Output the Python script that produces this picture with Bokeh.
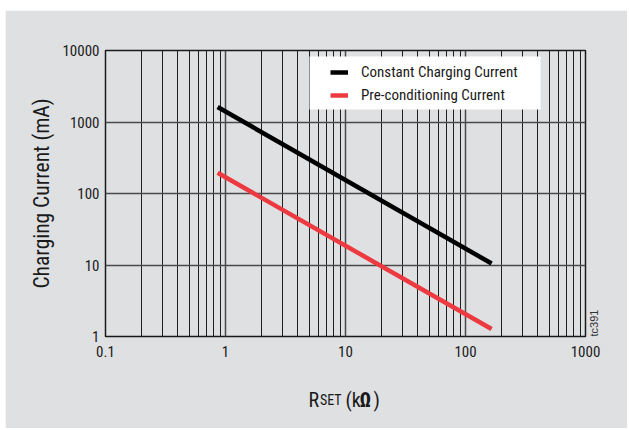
import math
from bokeh.plotting import figure
from bokeh.models import (Legend, LegendItem, Label, BoxAnnotation, FixedTicker,
                          LogAxis, Range1d, LinearScale, Spacer)
from bokeh.layouts import column, row
from bokeh.embed import file_html
from bokeh.resources import INLINE

# ---- data ----
r_set_kohm = [0.86, 165]
constant_charging_ma = [1620, 10.5]
preconditioning_ma = [195, 1.27]
series_names = ["Constant Charging Current", "Pre-conditioning Current"]
x_ticks = [0.1, 1, 10, 100, 1000]
x_tick_labels = ["0.1", "1", "10", "100", "1000"]
y_ticks = [1, 10, 100, 1000, 10000]
y_tick_labels = ["1", "10", "100", "1000", "10000"]

BG = "#dfe0e2"
RED = "#ec3a40"
FONT = "Roboto Condensed"
TXT = "#1a1a1a"
FRAME_W, FRAME_H = 480, 287

p = figure(width=622, height=418, x_axis_type="log", y_axis_type="log",
           x_range=(0.1, 1000), y_range=(1, 10000),
           output_backend="svg", toolbar_location=None,
           min_border_left=100, min_border_right=42,
           min_border_top=39, min_border_bottom=92)
p.background_fill_color = BG
p.border_fill_color = BG
p.outline_line_color = "#1a1a1a"
p.outline_line_width = 1.5

# pixel-based helper ranges for placing text annotations
p.extra_x_ranges = {"px": Range1d(0, FRAME_W)}
p.extra_y_ranges = {"px": Range1d(0, FRAME_H)}
p.extra_x_scales = {"px": LinearScale()}
p.extra_y_scales = {"px": LinearScale()}

minor_x = [m * 10 ** k for k in range(-1, 3) for m in range(2, 10)]
xt = FixedTicker(ticks=x_ticks, minor_ticks=minor_x)
yt = FixedTicker(ticks=y_ticks, minor_ticks=[])
p.xaxis.ticker = xt
p.yaxis.ticker = yt
p.xgrid.ticker = xt
p.ygrid.ticker = yt
p.xaxis.major_label_overrides = dict(zip(x_ticks, x_tick_labels))
p.yaxis.major_label_overrides = dict(zip(y_ticks, y_tick_labels))

p.xgrid.grid_line_color = "#4a4a4a"
p.xgrid.grid_line_width = 1.5
p.xgrid.minor_grid_line_color = "#1e1e1e"
p.xgrid.minor_grid_line_width = 1
p.ygrid.grid_line_color = "#4a4a4a"
p.ygrid.grid_line_width = 1.5

for ax in (p.xaxis, p.yaxis):
    ax.axis_line_color = None
    ax.major_tick_line_color = None
    ax.minor_tick_line_color = None
    ax.major_tick_out = 0
    ax.major_tick_in = 0
    ax.major_label_text_font = FONT
    ax.major_label_text_font_size = "15px"
    ax.major_label_text_color = TXT
p.yaxis.major_label_standoff = 6
p.xaxis.major_label_standoff = 5

p.yaxis.axis_label = "Charging Current (mA)"
p.yaxis.axis_label_text_font = FONT
p.yaxis.axis_label_text_font_size = "21.5px"
p.yaxis.axis_label_text_font_style = "normal"
p.yaxis.axis_label_text_color = TXT
p.yaxis.axis_label_standoff = 5

r1 = p.line(r_set_kohm, constant_charging_ma, line_color="black", line_width=4.5)
r2 = p.line(r_set_kohm, preconditioning_ma, line_color=RED, line_width=4.5)

box = BoxAnnotation(left=204, right=435, top=280, bottom=227,
                    left_units="screen", right_units="screen",
                    top_units="screen", bottom_units="screen",
                    fill_color="white", fill_alpha=1, line_color=None)
p.add_layout(box)

legend = Legend(items=[LegendItem(label=series_names[0], renderers=[r1]),
                       LegendItem(label=series_names[1], renderers=[r2])],
                location=(225, 231), padding=0, spacing=3, margin=0,
                glyph_width=18, glyph_height=20, label_height=20,
                label_standoff=13, label_text_font=FONT,
                label_text_font_size="15px", label_text_color=TXT,
                background_fill_alpha=0, border_line_color=None)
p.add_layout(legend)

# "tc391" tag on the right
tag = LogAxis(ticker=FixedTicker(ticks=[]), axis_line_color=None,
              major_tick_line_color=None, minor_tick_line_color=None,
              major_tick_out=0, major_tick_in=0, major_label_standoff=0,
              major_label_text_font_size="0px",
              axis_label="tc391", axis_label_text_font="Liberation Sans",
              axis_label_text_font_size="11px", axis_label_text_font_style="normal",
              axis_label_text_color="#333333", axis_label_standoff=8)
tag.axis_label_orientation = math.pi / 2
tag.axis_label_align = "start"
p.add_layout(tag, "right")

# x-axis title "RSET (kΩ)" (small-caps SET, bold Ω), pieces spread over side panels
parts = [("R", 203, "20px", FONT, "normal", "left"),
         ("SET", 214.5, "14px", FONT, "normal", "above"),
         ("(k", 240, "20px", FONT, "normal", "below"),
         ("Ω", 254, "20px", FONT, "bold", "above"),
         (")", 268, "20px", FONT, "normal", "right")]
for txt, x, size, font, style, side in parts:
    p.add_layout(Label(x=x, y=-64, x_range_name="px", y_range_name="px", text=txt,
                       text_font=font, text_font_size=size, text_font_style=style,
                       text_color=TXT, text_baseline="alphabetic", text_align="left"), side)

page = column(Spacer(width=5, height=10), row(Spacer(width=5, height=10), p))
open("out.html", "w").write(file_html(page, INLINE))
